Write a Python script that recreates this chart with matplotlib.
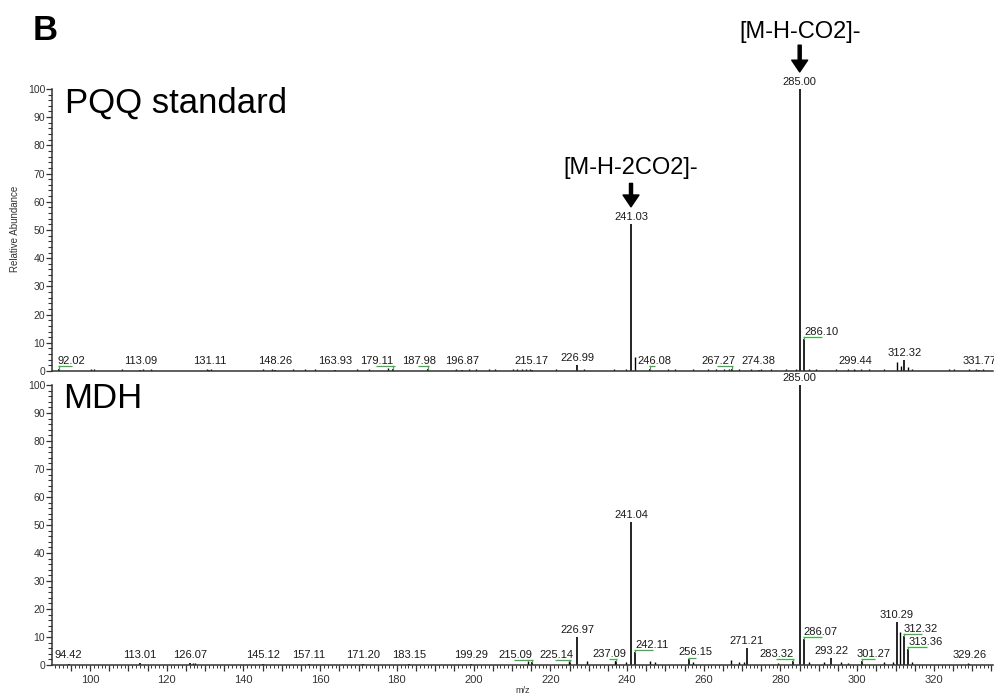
import matplotlib.pyplot as plt
from matplotlib.ticker import MultipleLocator, FuncFormatter

plt.rcParams['font.family'] = ['Liberation Sans', 'DejaVu Sans']

# PQQ standard, labelled peaks (m/z, relative abundance)
pqq_mz = [92.02, 113.09, 131.11, 148.26, 163.93, 179.11, 187.98, 196.87, 215.17,
          226.99, 241.03, 246.08, 267.27, 274.38, 285.00, 286.10, 299.44, 312.32, 331.77]
pqq_int = [0.6, 0.5, 0.5, 0.5, 0.5, 0.8, 0.8, 0.5, 0.5,
           2.0, 52.0, 0.6, 0.7, 0.5, 100.0, 11.3, 0.5, 3.9, 0.5]
# PQQ standard, unlabelled minor peaks
pqq_minor_mz = [100.3, 101.0, 108.3, 113.8, 116.0, 130.6, 131.6, 145.0, 147.5, 153.0,
                156.0, 158.7, 169.7, 172.6, 177.8, 195.3, 198.7, 200.5, 203.9, 205.7,
                210.2, 211.4, 212.6, 213.6, 214.8, 221.4, 228.7, 236.5, 239.6, 242.03,
                250.6, 252.4, 257.1, 261.0, 263.1, 265.2, 266.5, 269.1, 272.2, 274.9,
                277.5, 281.4, 284.0, 287.4, 289.2, 294.4, 297.5, 299.1, 300.9, 303.0,
                307.0, 310.3, 311.3, 313.3, 314.3, 323.9, 325.2, 329.2, 331.0, 332.8]
pqq_minor_int = [0.7, 0.7, 0.7, 0.7, 0.7, 0.8, 0.8, 0.7, 0.7, 0.7,
                 0.7, 0.7, 0.7, 0.7, 0.9, 0.7, 0.7, 0.7, 0.7, 0.7,
                 0.7, 0.7, 0.7, 0.7, 0.7, 0.7, 0.7, 0.7, 0.7, 5.0,
                 0.7, 0.7, 0.7, 0.7, 0.7, 0.7, 0.7, 0.7, 0.7, 0.7,
                 0.7, 0.7, 0.7, 0.7, 0.7, 0.7, 0.7, 0.7, 0.7, 0.7,
                 0.7, 3.3, 1.9, 1.5, 0.8, 0.7, 0.7, 0.7, 0.7, 0.7]

# MDH, labelled peaks
mdh_mz = [94.42, 113.01, 126.07, 145.12, 157.11, 171.20, 183.15, 199.29, 215.09,
          225.14, 226.97, 237.09, 241.04, 242.11, 256.15, 271.21, 283.32, 285.00,
          286.07, 293.22, 301.27, 310.29, 312.32, 313.36, 329.26]
mdh_int = [0.5, 0.6, 0.8, 0.5, 0.5, 0.5, 0.5, 0.5, 1.2,
           1.2, 10.0, 1.5, 51.0, 4.6, 2.0, 6.0, 1.5, 100.0,
           9.3, 2.5, 1.5, 15.4, 10.4, 5.7, 0.5]
# MDH, unlabelled minor peaks
mdh_minor_mz = [126.8, 127.4, 214.3, 224.8, 229.5, 236.8, 239.6, 245.9, 247.3, 257.1,
                267.0, 269.1, 270.4, 279.3, 287.4, 291.3, 295.7, 297.5, 307.0, 309.3,
                311.2, 314.2, 328.8]
mdh_minor_int = [0.8, 0.8, 1.5, 1.5, 1.5, 1.5, 1.0, 1.5, 1.0, 1.0,
                 1.8, 1.2, 1.0, 0.7, 1.2, 1.0, 1.0, 0.8, 1.0, 1.2,
                 11.9, 1.0, 0.6]

# horizontal label nudges (m/z units) where the software moved a label aside
pqq_nudge = {92.02: 3.0, 179.11: -4.3, 187.98: -2.1, 246.08: 1.0, 267.27: -3.4, 286.10: 4.5}
mdh_nudge = {215.09: -4.2, 225.14: -3.6, 237.09: -1.6, 242.11: 4.3, 256.15: 1.6,
             283.32: -4.3, 286.07: 4.4, 301.27: 3.1, 312.32: 4.3, 313.36: 4.5}

XMIN, XMAX = 90.1, 335.4
INK = '#333333'

fig = plt.figure(figsize=(9.95, 7), dpi=100)
ax1 = fig.add_axes([0.0523, 0.47, 0.9457, 0.403])
ax2 = fig.add_axes([0.0523, 0.05, 0.9457, 0.40])


def draw_spectrum(ax, mz, inten, minor_mz, minor_int, nudge):
    ax.vlines(minor_mz, 0, minor_int, color='black', lw=1.0)
    ax.vlines(mz, 0, inten, color='black', lw=1.2)
    for m, h in zip(mz, inten):
        ly = max(h, 1.0) + 0.7
        cx = m + nudge.get(m, 0.0)
        ax.text(cx, ly, f'{m:.2f}', ha='center', va='bottom', fontsize=8,
                color='#1a1a1a', clip_on=False)
        if m in nudge:
            x0, x1 = min(m, cx) - 0.3, max(m, cx) + 0.3
            ax.plot([x0, x1], [ly - 0.1, ly - 0.1], color='#3cb043', lw=0.9,
                    solid_capstyle='butt', clip_on=False)
            ax.plot([m, m], [h, ly - 0.1], color='#3cb043', lw=0.9, clip_on=False)

    ax.set_xlim(XMIN, XMAX)
    ax.set_ylim(0, 100)
    for side in ('top', 'right'):
        ax.spines[side].set_visible(False)
    for side in ('left', 'bottom'):
        ax.spines[side].set_color(INK)
        ax.spines[side].set_linewidth(1.1)
    ax.yaxis.set_major_locator(MultipleLocator(10))
    ax.yaxis.set_minor_locator(MultipleLocator(2))
    ax.tick_params(axis='y', which='major', length=4, width=0.9, color=INK,
                   labelsize=7.5, labelcolor=INK, pad=1)
    ax.tick_params(axis='y', which='minor', length=3, width=0.8, color=INK)


draw_spectrum(ax1, pqq_mz, pqq_int, pqq_minor_mz, pqq_minor_int, pqq_nudge)
draw_spectrum(ax2, mdh_mz, mdh_int, mdh_minor_mz, mdh_minor_int, mdh_nudge)

# top panel carries no x ticks
ax1.tick_params(axis='x', which='both', bottom=False, labelbottom=False)

# bottom panel: medium ticks every 5, labels every 20, small ticks every 1
ax2.xaxis.set_major_locator(MultipleLocator(5))
ax2.xaxis.set_minor_locator(MultipleLocator(1))
ax2.xaxis.set_major_formatter(FuncFormatter(lambda v, p: f'{v:.0f}' if round(v) % 20 == 0 else ''))
ax2.tick_params(axis='x', which='major', length=4, width=0.9, color=INK,
                labelsize=8, labelcolor=INK, pad=3)
ax2.tick_params(axis='x', which='minor', length=2, width=0.7, color=INK)

# panel names
ax1.text(0.014, 0.95, 'PQQ standard', transform=ax1.transAxes, fontsize=25,
         ha='left', va='center', color='black')
ax2.text(0.012, 0.95, 'MDH', transform=ax2.transAxes, fontsize=25,
         ha='left', va='center', color='black')

# ion assignments
arrow_style = dict(facecolor='black', edgecolor='black', width=2.2, headwidth=11.5,
                   headlength=8.5, shrink=0)
ax1.annotate('', xy=(241.03, 58.2), xytext=(241.03, 66.5), arrowprops=arrow_style,
             annotation_clip=False)
ax1.text(241.03, 72, '[M-H-2CO2]-', ha='center', va='center', fontsize=17)
ax1.annotate('', xy=(285.0, 106), xytext=(285.0, 115.5), arrowprops=arrow_style,
             annotation_clip=False)
ax1.text(285.0, 120, '[M-H-CO2]-', ha='center', va='center', fontsize=17, clip_on=False)

fig.text(0.033, 0.957, 'B', fontsize=25, fontweight='bold', ha='left', va='center')
fig.text(0.015, 0.673, 'Relative Abundance', rotation=90, fontsize=7, color=INK,
         ha='center', va='center')
fig.text(0.525, 0.007, 'm/z', fontsize=6.5, color=INK, ha='center', va='bottom')

fig.savefig('out.png', dpi=100)
